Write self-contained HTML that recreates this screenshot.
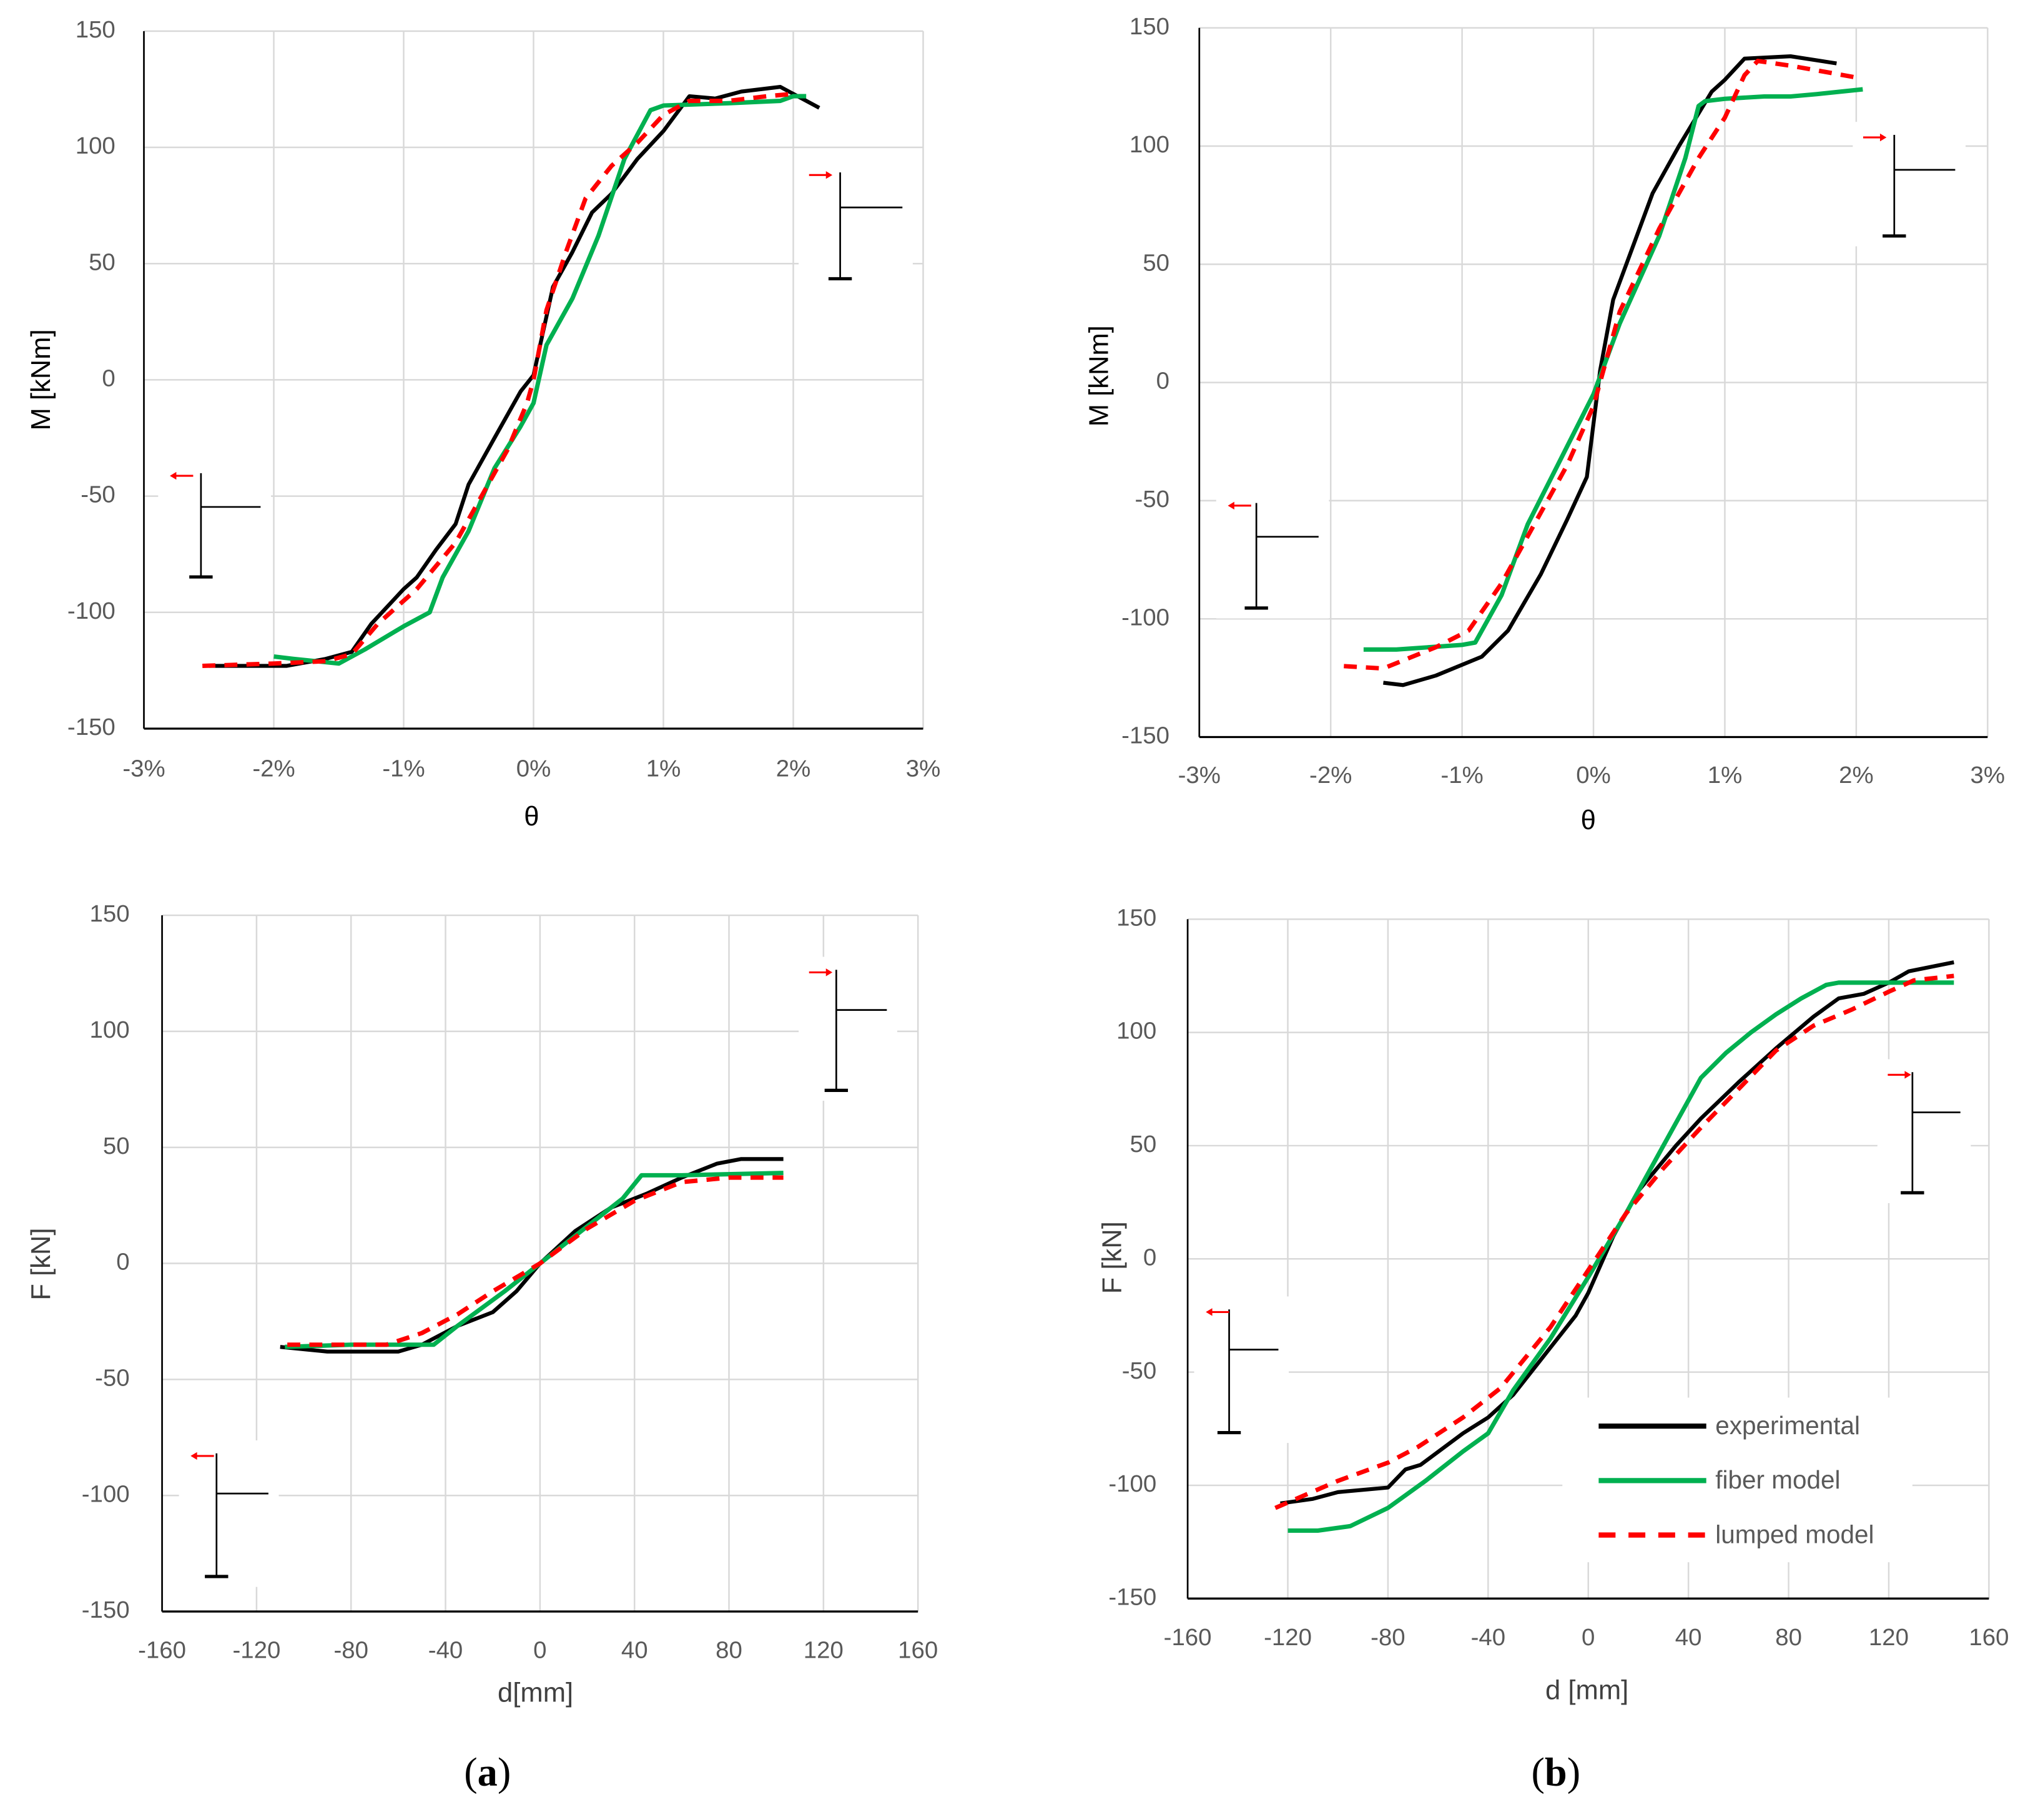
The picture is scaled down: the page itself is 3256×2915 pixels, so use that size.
<!DOCTYPE html>
<html><head><meta charset="utf-8"><style>
html,body{margin:0;padding:0;background:#fff;}
svg{display:block;}
text{font-family:"Liberation Sans",sans-serif;}
</style></head><body>
<svg id="fig" width="3256" height="2915" viewBox="0 0 1568 1403.8" preserveAspectRatio="none" xmlns="http://www.w3.org/2000/svg"></svg>
<script>
// ---- data (x, y pairs) ----
const thetaTicks=[-3,-2,-1,0,1,2,3];
const mTicks=[150,100,50,0,-50,-100,-150];
const dTicks=[-160,-120,-80,-40,0,40,80,120,160];
const fTicks=[150,100,50,0,-50,-100,-150];

const aTopExpX=[-2.5,-1.9,-1.6,-1.4,-1.25,-1.0,-0.9,-0.75,-0.6,-0.5,-0.3,-0.1,0,0.15,0.3,0.45,0.6,0.8,1.0,1.2,1.4,1.6,1.9,2.2];
const aTopExpY=[-123,-123,-120,-117,-105,-90,-85,-73,-62,-45,-25,-5,2,40,55,72,80,95,107,122,121,124,126,117];
const aTopFibX=[-2.0,-1.85,-1.5,-1.3,-1.0,-0.8,-0.7,-0.5,-0.3,-0.1,0,0.1,0.3,0.5,0.7,0.9,1.0,1.5,1.9,2.0,2.1];
const aTopFibY=[-119,-120,-122,-116,-106,-100,-85,-65,-38,-20,-10,15,35,62,95,116,118,119,120,122,122];
const aTopLumX=[-2.55,-2.0,-1.6,-1.4,-1.2,-0.9,-0.6,-0.4,-0.2,-0.05,0,0.1,0.25,0.4,0.6,0.8,1.0,1.2,1.5,1.8,2.0];
const aTopLumY=[-123,-122,-121,-118,-105,-90,-70,-50,-30,-10,0,30,55,78,92,102,114,120,120,122,123];

const bTopExpX=[-1.6,-1.45,-1.2,-0.85,-0.65,-0.4,-0.2,-0.05,0.05,0.15,0.45,0.65,0.9,1.0,1.15,1.5,1.85];
const bTopExpY=[-127,-128,-124,-116,-105,-81,-58,-40,5,35,80,100,123,128,137,138,135];
const bTopFibX=[-1.75,-1.5,-1.0,-0.9,-0.7,-0.5,-0.3,0,0.2,0.5,0.7,0.8,0.85,1.0,1.3,1.5,1.7,2.05];
const bTopFibY=[-113,-113,-111,-110,-90,-60,-38,-5,25,62,95,117,119,120,121,121,122,124];
const bTopLumX=[-1.9,-1.6,-1.2,-0.95,-0.7,-0.45,-0.2,0,0.2,0.5,0.8,1.0,1.15,1.25,1.5,1.8,2.0];
const bTopLumY=[-120,-121,-112,-105,-85,-60,-35,-10,30,65,95,112,130,136,134,131,129];

const aBotExpX=[-110,-90,-75,-60,-50,-35,-20,-10,0,15,30,45,60,75,85,103];
const aBotExpY=[-36,-38,-38,-38,-35,-27,-21,-12,0,14,24,30,37,43,45,45];
const aBotFibX=[-108,-80,-45,-35,-15,0,20,35,43,60,103];
const aBotFibY=[-36,-35,-35,-27,-12,0,16,28,38,38,39];
const aBotLumX=[-107,-85,-65,-50,-35,-20,0,20,40,60,80,103];
const aBotLumY=[-35,-35,-35,-30,-22,-12,0,15,27,35,37,37];

const bBotExpX=[-123,-110,-100,-80,-73,-67,-50,-40,-30,-20,-5,0,10,20,35,45,60,75,90,100,110,120,128,146];
const bBotExpY=[-108,-106,-103,-101,-93,-91,-77,-70,-60,-46,-25,-15,10,30,50,62,78,93,107,115,117,122,127,131];
const bBotFibX=[-120,-108,-95,-80,-65,-50,-40,-30,-15,0,15,30,45,55,65,75,85,95,100,146];
const bBotFibY=[-120,-120,-118,-110,-98,-85,-77,-58,-35,-8,20,50,80,91,100,108,115,121,122,122];
const bBotLumX=[-125,-100,-80,-68,-50,-35,-15,0,15,30,45,60,75,90,105,120,130,146];
const bBotLumY=[-110,-98,-90,-83,-70,-57,-30,-5,20,40,58,75,92,103,110,118,123,125];

const NS="http://www.w3.org/2000/svg";
const svg=document.getElementById('fig');
function el(tag,attrs,parent){const e=document.createElementNS(NS,tag);for(const k in attrs)e.setAttribute(k,attrs[k]);(parent||svg).appendChild(e);return e;}

const panels=[
 {id:'a-top',x0:111,x1:712,y0:24,y1:562,xmin:-3,xmax:3,ymin:-150,ymax:150,xt:thetaTicks,yt:mTicks,pct:true,
  ylabX:91,xlabY:594,title:'θ',tx:410,ty:631,ytitle:'M [kNm]',ytx:33,yty:293,
  ser:[[aTopExpX,aTopExpY],[aTopFibX,aTopFibY],[aTopLumX,aTopLumY]],
  insets:[[624,648,133,215,160,696,1],[130,155,365,445,391,201,-1]]},
 {id:'b-top',x0:925,x1:1533,y0:21.5,y1:568.5,xmin:-3,xmax:3,ymin:-150,ymax:150,xt:thetaTicks,yt:mTicks,pct:true,
  ylabX:904,xlabY:599,title:'θ',tx:1225,ty:634,ytitle:'M [kNm]',ytx:849,yty:290,
  ser:[[bTopExpX,bTopExpY],[bTopFibX,bTopFibY],[bTopLumX,bTopLumY]],
  insets:[[1437,1461,104,182,131,1508,1],[946,969,388,469,414,1017,-1]]},
 {id:'a-bottom',x0:125,x1:708,y0:706,y1:1243,xmin:-160,xmax:160,ymin:-150,ymax:150,xt:dTicks,yt:fTicks,pct:false,
  ylabX:102,xlabY:1274,title:'d[mm]',tx:413,ty:1307,ytitle:'F [kN]',ytx:33,yty:975,
  ser:[[aBotExpX,aBotExpY],[aBotFibX,aBotFibY],[aBotLumX,aBotLumY]],
  insets:[[624,645,748,841,779,684,1],[146,167,1121,1216,1152,207,-1]]},
 {id:'b-bottom',x0:916,x1:1534,y0:709,y1:1233,xmin:-160,xmax:160,ymin:-150,ymax:150,xt:dTicks,yt:fTicks,pct:false,
  ylabX:894,xlabY:1264,title:'d [mm]',tx:1224,ty:1305,ytitle:'F [kN]',ytx:859,yty:970,
  ser:[[bBotExpX,bBotExpY],[bBotFibX,bBotFibY],[bBotLumX,bBotLumY]],
  insets:[[1456,1475,827,920,858,1512,1],[929,948,1010,1105,1041,986,-1]]}
];
const colors=['#000000','#00b050','#ff0000'];
const names=['experimental','fiber-model','lumped-model'];

panels.forEach(p=>{
  const g=el('g',{});
  
  
  const sx=v=>p.x0+(v-p.xmin)/(p.xmax-p.xmin)*(p.x1-p.x0);
  const sy=v=>p.y1-(v-p.ymin)/(p.ymax-p.ymin)*(p.y1-p.y0);
  p.yt.forEach(t=>{ if(t===p.ymin) return;
    const l=el('line',{x1:p.x0,x2:p.x1,y1:sy(t),y2:sy(t),stroke:'#d9d9d9','stroke-width':1.2},g);
     });
  p.xt.forEach(t=>{ if(t===p.xmin) return;
    const l=el('line',{x1:sx(t),x2:sx(t),y1:p.y0,y2:p.y1,stroke:'#d9d9d9','stroke-width':1.2},g);
     });
  p.insets.forEach(ins=>{
    const [ax,vx,vy0,vy1,hy,hx1,dir]=ins;
    const r=el('rect',{x:Math.min(ax,vx)-8,y:vy0-10,width:Math.max(hx1,vx)-Math.min(ax,vx)+16,height:vy1-vy0+18,fill:'#fff'},g);
     
  });
  const ya=el('line',{x1:p.x0,x2:p.x0,y1:p.y0,y2:p.y1,stroke:'#000','stroke-width':1.3},g);
   
  const xa=el('line',{x1:p.x0,x2:p.x1,y1:p.y1,y2:p.y1,stroke:'#000','stroke-width':1.6},g);
   
  p.yt.forEach(t=>{const tx=el('text',{x:p.ylabX-2,y:sy(t),'text-anchor':'end','dominant-baseline':'middle','font-size':18.5,fill:'#595959'},g);
    tx.textContent=String(t);  });
  p.xt.forEach(t=>{const tx=el('text',{x:sx(t),y:p.xlabY,'text-anchor':'middle','dominant-baseline':'middle','font-size':18.5,fill:'#595959'},g);
    tx.textContent=p.pct?(t+'%'):String(t);  });
  const xt=el('text',{x:p.tx,y:p.ty,'text-anchor':'middle','dominant-baseline':'middle','font-size':21,fill:p.pct?'#000':'#404040'},g);
  xt.textContent=p.title;  
  const yt=el('text',{x:p.ytx,y:p.yty,'text-anchor':'middle','dominant-baseline':'middle','font-size':21,fill:p.pct?'#000':'#404040',transform:`rotate(-90 ${p.ytx} ${p.yty})`},g);
  yt.textContent=p.ytitle;  
  p.insets.forEach(ins=>{
    const [ax,vx,vy0,vy1,hy,hx1,dir]=ins;
    const ig=el('g',{},g);
     
    el('line',{x1:vx,x2:vx,y1:vy0,y2:vy1,stroke:'#000','stroke-width':1.3},ig);
    el('line',{x1:vx,x2:hx1,y1:hy,y2:hy,stroke:'#000','stroke-width':1.3},ig);
    el('line',{x1:vx-9,x2:vx+9,y1:vy1,y2:vy1,stroke:'#000','stroke-width':2.5},ig);
    const ay=vy0+2;
    if(dir>0){el('line',{x1:ax,x2:ax+15,y1:ay,y2:ay,stroke:'#ff0000','stroke-width':1.5},ig);
      el('path',{d:`M${ax+18},${ay} l-5,-3 v6 z`,fill:'#ff0000'},ig);}
    else{el('line',{x1:ax+4,x2:ax+19,y1:ay,y2:ay,stroke:'#ff0000','stroke-width':1.5},ig);
      el('path',{d:`M${ax+1},${ay} l5,-3 v6 z`,fill:'#ff0000'},ig);}
  });
  p.ser.forEach((s,i)=>{
    const pts=s[0].map((x,k)=>sx(x).toFixed(1)+','+sy(s[1][k]).toFixed(1)).join(' ');
    const a={points:pts,fill:'none',stroke:colors[i],'stroke-width':i===0?3:3.4,'stroke-linejoin':'round'};
    if(i===2){a['stroke-dasharray']='10,7';}
    const pl=el('polyline',a,g);
     
  });
});

const lg=el('g',{});
 
el('rect',{x:1205,y:1078,width:270,height:127,fill:'#fff'},lg);
const legY=[1100,1142,1184], legT=['experimental','fiber model','lumped model'];
legY.forEach((y,i)=>{
  const a={x1:1233,x2:1316,y1:y,y2:y,stroke:colors[i],'stroke-width':4};
  if(i===2)a['stroke-dasharray']='13,10';
  const l=el('line',a,lg);
   
  const t=el('text',{x:1323,y:y+1,'dominant-baseline':'middle','font-size':19.5,fill:'#595959'},lg);
  t.textContent=legT[i];
   
});

[['(a)',376,'a'],['(b)',1200,'b']].forEach(([s,x,k])=>{
  const t=el('text',{x:x,y:1370,'text-anchor':'middle','dominant-baseline':'middle','font-size':31,fill:'#000'});
  t.style.fontFamily='"Liberation Serif",serif';
  t.innerHTML='(<tspan font-weight="bold">'+k+'</tspan>)';
   
});
</script>
</body></html>
